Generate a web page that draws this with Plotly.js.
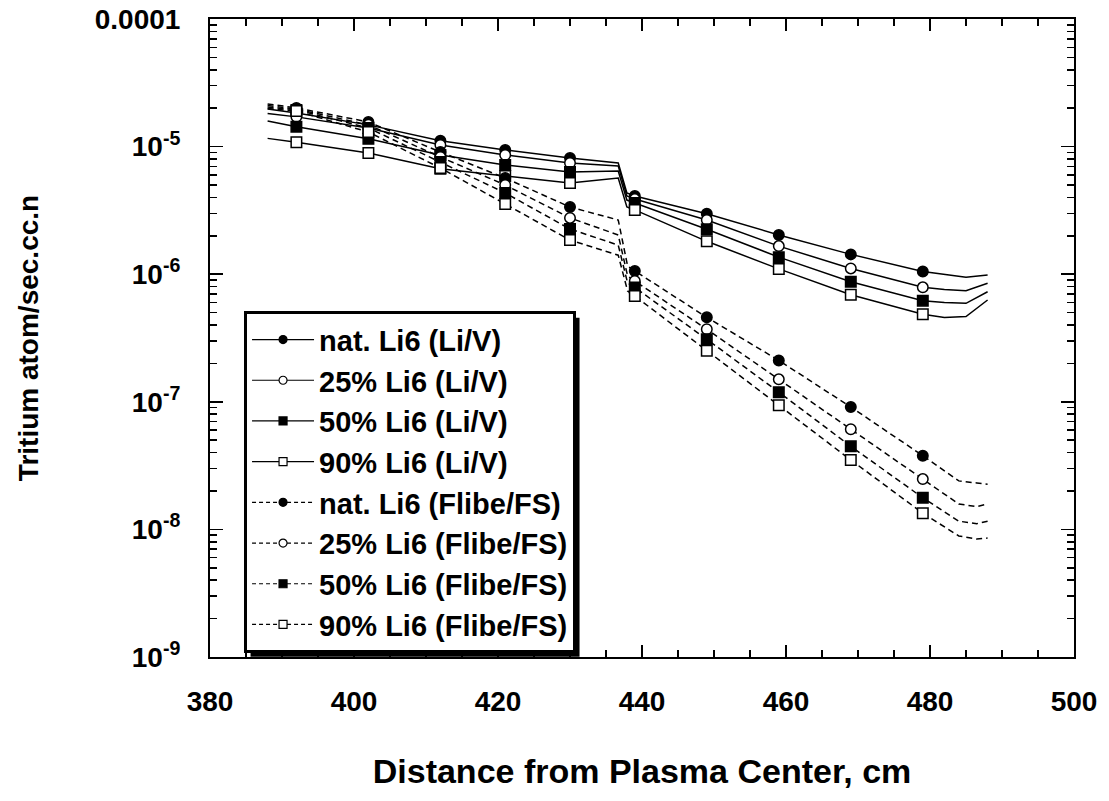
<!DOCTYPE html>
<html>
<head>
<meta charset="utf-8">
<script src="https://cdn.plot.ly/plotly-3.0.1.min.js"></script>
<style>
  html, body { margin: 0; padding: 0; background: #ffffff; }
  #chart { width: 1109px; height: 801px; }
</style>
</head>
<body>
<div id="chart"></div>
<script>
// ---------------- data ----------------
// x positions (cm) of the curve points
const xLiV   = [388, 392, 402, 412, 421, 430, 436.7, 437.9, 439, 449, 459, 469, 479, 482, 485, 488];
const xFlibe = [388, 392, 402, 412, 421, 430, 436.7, 438, 439, 449, 459, 469, 479, 484, 486.5, 488];
// x positions where a symbol is drawn
const markerX = [392, 402, 412, 421, 430, 439, 449, 459, 469, 479];

// Li/V blanket (solid lines)
const liV_nat = [1.97e-5, 1.83e-5, 1.48e-5, 1.11e-5, 9.41e-6, 8.14e-6, 7.44e-6, 4.33e-6, 4.10e-6, 2.98e-6, 2.03e-6, 1.43e-6, 1.05e-6, 9.94e-7, 9.46e-7, 9.86e-7];
const liV_25  = [1.82e-5, 1.71e-5, 1.40e-5, 1.03e-5, 8.59e-6, 7.44e-6, 7.05e-6, 4.10e-6, 3.88e-6, 2.66e-6, 1.66e-6, 1.11e-6, 7.89e-7, 7.59e-7, 7.43e-7, 8.49e-7];
const liV_50  = [1.59e-5, 1.43e-5, 1.15e-5, 8.59e-6, 7.17e-6, 6.32e-6, 6.44e-6, 3.81e-6, 3.61e-6, 2.25e-6, 1.36e-6, 8.73e-7, 6.20e-7, 6.00e-7, 5.91e-7, 7.29e-7];
const liV_90  = [1.16e-5, 1.08e-5, 8.91e-6, 6.71e-6, 5.88e-6, 5.18e-6, 5.67e-6, 3.36e-6, 3.19e-6, 1.81e-6, 1.10e-6, 6.91e-7, 4.85e-7, 4.58e-7, 4.66e-7, 6.28e-7];

// Flibe/FS blanket (dashed lines)
const flibe_nat = [2.16e-5, 2.01e-5, 1.56e-5, 9.07e-6, 5.67e-6, 3.36e-6, 2.66e-6, 1.16e-6, 1.06e-6, 4.59e-7, 2.11e-7, 9.10e-8, 3.78e-8, 2.40e-8, 2.31e-8, 2.26e-8];
const flibe_25  = [2.10e-5, 1.97e-5, 1.48e-5, 8.29e-6, 5.00e-6, 2.76e-6, 2.03e-6, 9.68e-7, 8.84e-7, 3.70e-7, 1.50e-7, 6.09e-8, 2.48e-8, 1.58e-8, 1.51e-8, 1.58e-8];
const flibe_50  = [2.04e-5, 1.94e-5, 1.40e-5, 7.57e-6, 4.33e-6, 2.26e-6, 1.69e-6, 8.53e-7, 7.87e-7, 3.09e-7, 1.19e-7, 4.48e-8, 1.77e-8, 1.16e-8, 1.11e-8, 1.16e-8];
const flibe_90  = [1.99e-5, 1.90e-5, 1.30e-5, 6.80e-6, 3.55e-6, 1.85e-6, 1.41e-6, 7.38e-7, 6.75e-7, 2.51e-7, 9.39e-8, 3.50e-8, 1.34e-8, 8.88e-9, 8.41e-9, 8.56e-9];

const seriesNames = [
  'nat. Li6 (Li/V)', '25% Li6 (Li/V)', '50% Li6 (Li/V)', '90% Li6 (Li/V)',
  'nat. Li6 (Flibe/FS)', '25% Li6 (Flibe/FS)', '50% Li6 (Flibe/FS)', '90% Li6 (Flibe/FS)'
];

const xTickVals = [380, 400, 420, 440, 460, 480, 500];
const yTickVals = [1e-9, 1e-8, 1e-7, 1e-6, 1e-5, 1e-4];
const yTickText = ['10<sup>-9</sup>', '10<sup>-8</sup>', '10<sup>-7</sup>', '10<sup>-6</sup>', '10<sup>-5</sup>', '0.0001'];

// ---------------- styling ----------------
const FONT = 'Liberation Sans, Arial, Helvetica, sans-serif';
const series = [
  {x: xLiV,   y: liV_nat,   dash: 'solid'},
  {x: xLiV,   y: liV_25,    dash: 'solid'},
  {x: xLiV,   y: liV_50,    dash: 'solid'},
  {x: xLiV,   y: liV_90,    dash: 'solid'},
  {x: xFlibe, y: flibe_nat, dash: '6px,4px'},
  {x: xFlibe, y: flibe_25,  dash: '6px,4px'},
  {x: xFlibe, y: flibe_50,  dash: '6px,4px'},
  {x: xFlibe, y: flibe_90,  dash: '6px,4px'}
];
const symStyle = [
  {symbol: 'circle', fill: 'black'},
  {symbol: 'circle', fill: 'white'},
  {symbol: 'square', fill: 'black'},
  {symbol: 'square', fill: 'white'}
];

const traces = [];
// curves
series.forEach(function(s, i) {
  traces.push({
    type: 'scatter', mode: 'lines', x: s.x, y: s.y,
    line: {color: 'black', width: 1.5, dash: s.dash},
    showlegend: false, hoverinfo: 'skip'
  });
});
// symbols
series.forEach(function(s, i) {
  const st = symStyle[i % 4];
  const mx = [], my = [];
  markerX.forEach(function(x) {
    const k = s.x.indexOf(x);
    if (k >= 0) { mx.push(x); my.push(s.y[k]); }
  });
  traces.push({
    type: 'scatter', mode: 'markers', x: mx, y: my,
    marker: {symbol: st.symbol, size: 10.5, color: st.fill, line: {color: 'black', width: 1.5}},
    showlegend: false, hoverinfo: 'skip'
  });
});
// legend entries
series.forEach(function(s, i) {
  const st = symStyle[i % 4];
  traces.push({
    type: 'scatter', mode: 'lines+markers', x: [null], y: [null],
    name: seriesNames[i],
    line: {color: 'black', width: 1.2, dash: i < 4 ? 'solid' : '4px,3px'},
    marker: {symbol: st.symbol, size: 8, color: st.fill, line: {color: 'black', width: 1.2}}
  });
});

const layout = {
  width: 1109, height: 801,
  margin: {l: 210, r: 35, t: 19, b: 144},
  paper_bgcolor: 'white', plot_bgcolor: 'white',
  font: {family: FONT, color: 'black', size: 28, weight: 'bold'},
  showlegend: true,
  legend: {
    x: 0.0394, y: 0.542, xanchor: 'left', yanchor: 'top',
    bgcolor: 'white', bordercolor: 'black', borderwidth: 3,
    font: {family: FONT, size: 29, color: 'black', weight: 'bold'},
    itemwidth: 62, tracegroupgap: 0
  },
  xaxis: {
    range: [380, 500], tickvals: xTickVals,
    showline: true, linecolor: 'black', linewidth: 2, mirror: 'allticks',
    ticks: 'inside', ticklen: 12, tickwidth: 1.5, tickcolor: 'black',
    minor: {dtick: 5, ticks: 'inside', ticklen: 7, tickwidth: 1.5, tickcolor: 'black', showgrid: false},
    showgrid: false, zeroline: false,
    tickfont: {family: FONT, size: 28, weight: 'bold'},
    ticklabelstandoff: 18,
    title: {text: 'Distance from Plasma Center, cm', font: {family: FONT, size: 34, weight: 'bold'}, standoff: 44}
  },
  yaxis: {
    type: 'log', range: [-9, -4], tickvals: yTickVals, ticktext: yTickText,
    showline: true, linecolor: 'black', linewidth: 2, mirror: 'allticks',
    ticks: 'inside', ticklen: 13, tickwidth: 1.5, tickcolor: 'black',
    minor: {dtick: 'D1', ticks: 'inside', ticklen: 7, tickwidth: 1.5, tickcolor: 'black', showgrid: false},
    showgrid: false, zeroline: false,
    tickfont: {family: FONT, size: 28, weight: 'bold'},
    ticklabelstandoff: 22,
    title: {text: 'Tritium atom/sec.cc.n', font: {family: FONT, size: 28, weight: 'bold'}, standoff: 48}
  }
};

const gd = document.getElementById('chart');
Plotly.newPlot(gd, traces, layout, {staticPlot: true, displayModeBar: false}).then(function(g) {
  // drop shadow behind the legend box
  const bg = g.querySelector('.legend .bg');
  if (!bg) return;
  const r = bg.getBoundingClientRect();
  const gr = g.getBoundingClientRect();
  const s = g._fullLayout._size;
  const px2x = function(px) { return (px - gr.left - s.l) / s.w; };
  const px2y = function(py) { return 1 - (py - gr.top - s.t) / s.h; };
  const off = 5;
  return Plotly.relayout(g, {shapes: [{
    type: 'rect', xref: 'paper', yref: 'paper', layer: 'above',
    x0: px2x(r.left + off), x1: px2x(r.right + off),
    y0: px2y(r.bottom + off), y1: px2y(r.top + off),
    fillcolor: 'black', line: {width: 0}
  }]});
});
</script>
</body>
</html>
